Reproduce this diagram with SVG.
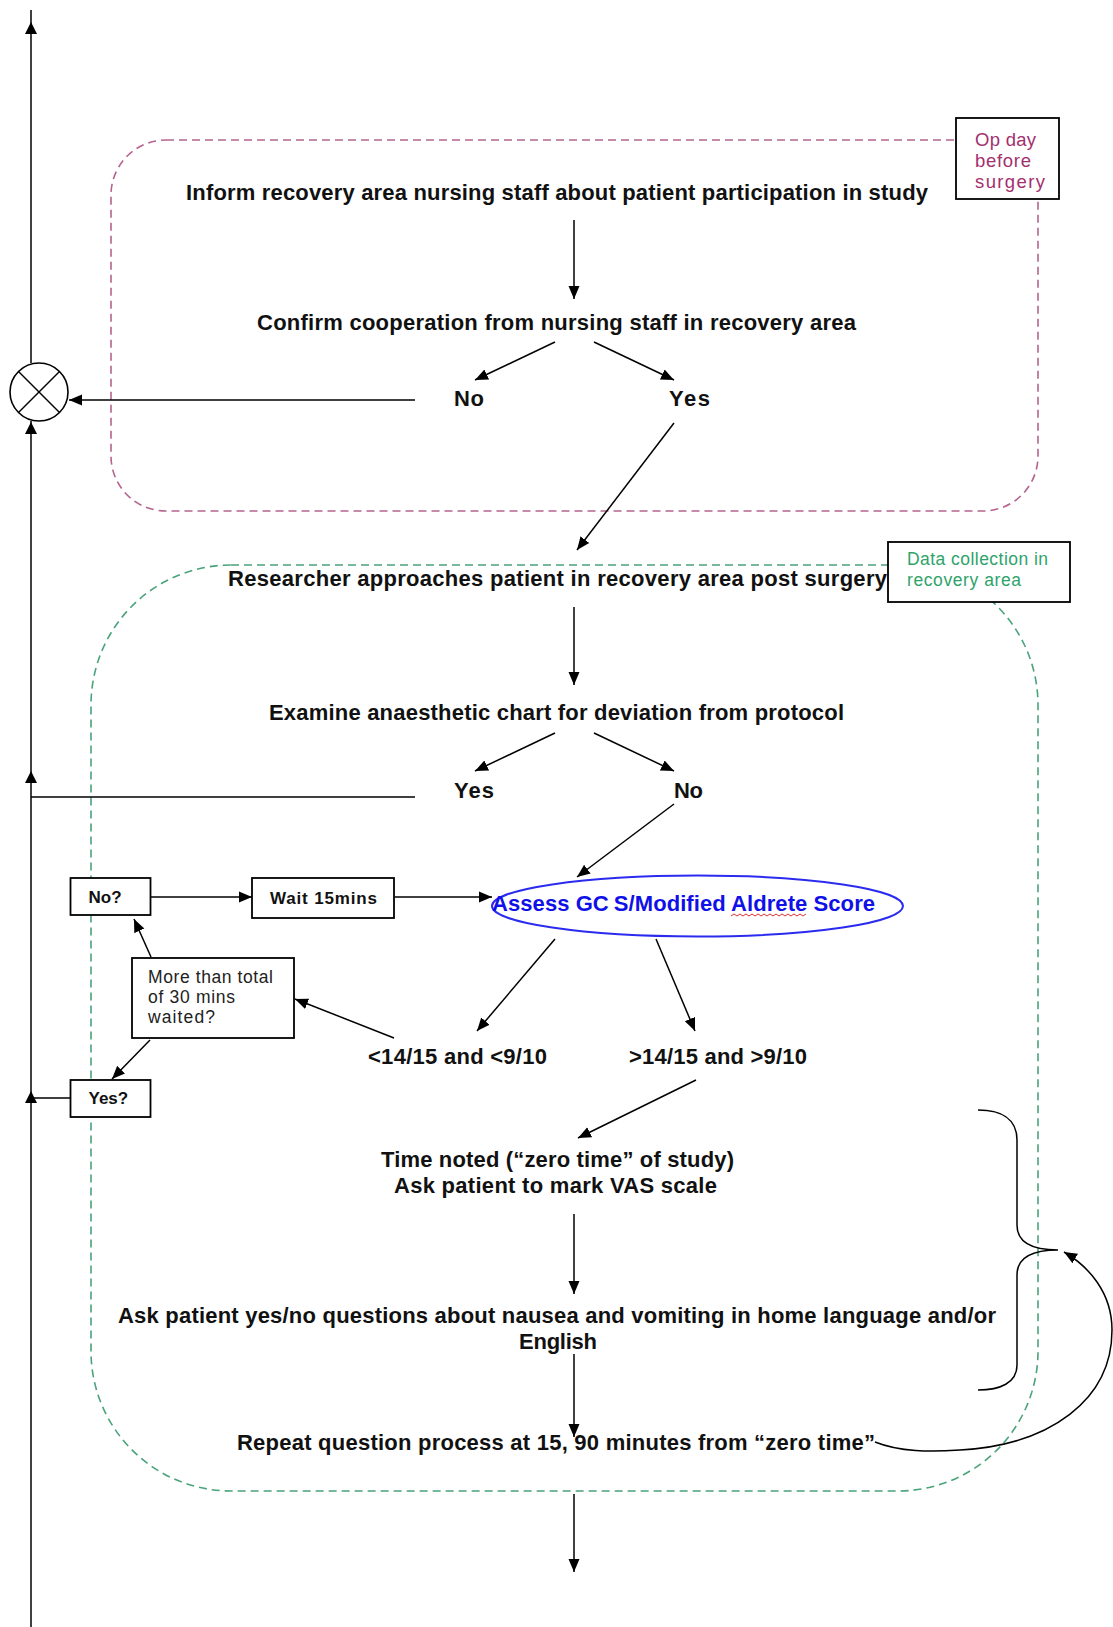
<svg xmlns="http://www.w3.org/2000/svg" width="1113" height="1627" viewBox="0 0 1113 1627">
<defs>
<marker id="ah" viewBox="0 0 13 12" refX="13" refY="6" markerWidth="13" markerHeight="12" markerUnits="userSpaceOnUse" orient="auto">
<path d="M0,0.5 L13,6 L0,11.5 z" fill="#000"/>
</marker>
<style>
.t{font-family:"Liberation Sans",Arial,sans-serif;font-weight:bold;font-size:22px;fill:#111;text-anchor:middle}
.s{font-family:"Liberation Sans",Arial,sans-serif;font-weight:bold;font-size:17px;fill:#111}
.r{font-family:"Liberation Sans",Arial,sans-serif;font-size:17.5px;fill:#222}
.c{fill:none;stroke:#000;stroke-width:1.5}
.ca{fill:none;stroke:#000;stroke-width:1.5;marker-end:url(#ah)}
.box{fill:#fff;stroke:#000;stroke-width:1.8}
.ahp{fill:#000}
</style>
</defs>
<rect width="1113" height="1627" fill="#fff"/>

<g id="zones">
<rect x="111" y="140" width="927" height="371" rx="55" ry="55" fill="none" stroke="#b4648e" stroke-width="1.6" stroke-dasharray="8 5"/>
<rect x="91" y="565" width="947" height="926" rx="140" ry="140" fill="none" stroke="#4aa37a" stroke-width="1.6" stroke-dasharray="8 5"/>
</g>

<g id="connectors">
<line class="c" x1="31" y1="10" x2="31" y2="363"/>
<line class="c" x1="31" y1="421" x2="31" y2="1627"/>
<polygon class="ahp" points="31,22 25,34 37,34"/>
<polygon class="ahp" points="31,422 25,434 37,434"/>
<polygon class="ahp" points="31,771 25,783 37,783"/>
<polygon class="ahp" points="31,1091 25,1103 37,1103"/>
<line class="ca" x1="415" y1="400" x2="69" y2="400"/>
<line class="ca" x1="574" y1="220" x2="574" y2="299"/>
<line class="ca" x1="555" y1="342" x2="475" y2="380"/>
<line class="ca" x1="594" y1="342" x2="674" y2="380"/>
<line class="ca" x1="674" y1="423" x2="577" y2="550"/>
<line class="ca" x1="574" y1="607" x2="574" y2="685"/>
<line class="ca" x1="555" y1="733" x2="475" y2="771"/>
<line class="ca" x1="594" y1="733" x2="674" y2="771"/>
<line class="c" x1="415" y1="797" x2="31" y2="797"/>
<line class="ca" x1="674" y1="804" x2="577" y2="877"/>
<line class="ca" x1="151" y1="897" x2="252" y2="897"/>
<line class="ca" x1="395" y1="897" x2="492" y2="897"/>
<line class="ca" x1="555" y1="939" x2="477" y2="1031"/>
<line class="ca" x1="656" y1="939" x2="695" y2="1031"/>
<line class="ca" x1="394" y1="1038" x2="295" y2="999"/>
<line class="ca" x1="151" y1="957" x2="134" y2="919"/>
<line class="ca" x1="150" y1="1040" x2="112" y2="1079"/>
<line class="c" x1="70" y1="1098" x2="31" y2="1098"/>
<line class="ca" x1="696" y1="1080" x2="578" y2="1138"/>
<line class="ca" x1="574" y1="1214" x2="574" y2="1294"/>
<line class="ca" x1="574" y1="1354" x2="574" y2="1437"/>
<line class="ca" x1="574" y1="1494" x2="574" y2="1572"/>
<path class="c" d="M978 1110 C1000 1110 1017 1118 1017 1140 L1017 1225 C1017 1244 1035 1250 1058 1250 C1035 1250 1017 1256 1017 1275 L1017 1365 C1017 1383 1000 1390 978 1390"/>
<path class="ca" d="M875 1442 C900 1452 930 1452 960 1450 C1050 1445 1112 1400 1112 1330 C1112 1292 1088 1266 1064 1252"/>
</g>

<g id="terminator">
<circle cx="39" cy="392" r="29" fill="#fff" stroke="#000" stroke-width="1.6"/>
<line class="c" x1="18.5" y1="371.5" x2="59.5" y2="412.5"/>
<line class="c" x1="59.5" y1="371.5" x2="18.5" y2="412.5"/>
</g>

<g id="label-opday">
<rect class="box" x="956" y="118" width="103" height="81"/>
<text font-family="Liberation Sans,Arial,sans-serif" font-size="18.5" fill="#a3306e"><tspan x="975" y="146" textLength="61">Op day</tspan><tspan x="975" y="167" textLength="56">before</tspan><tspan x="975" y="188" textLength="70">surgery</tspan></text>
</g>
<g id="label-data">
<rect class="box" x="888" y="542" width="182" height="60"/>
<text font-family="Liberation Sans,Arial,sans-serif" font-size="17.5" fill="#2ea36a"><tspan x="907" y="565" textLength="141">Data collection in</tspan><tspan x="907" y="586" textLength="114">recovery area</tspan></text>
</g>

<g id="n-inform"><text class="t" x="557" y="200" textLength="742">Inform recovery area nursing staff about patient participation in study</text></g>
<g id="n-confirm"><text class="t" x="556.5" y="329.5" textLength="599">Confirm cooperation from nursing staff in recovery area</text></g>
<g id="n-no1"><text class="t" x="469" y="406" textLength="30">No</text></g>
<g id="n-yes1"><text class="t" x="689.5" y="406" textLength="41">Yes</text></g>
<g id="n-researcher"><text class="t" x="557.5" y="586" textLength="659">Researcher approaches patient in recovery area post surgery</text></g>
<g id="n-examine"><text class="t" x="556.5" y="719.5" textLength="575">Examine anaesthetic chart for deviation from protocol</text></g>
<g id="n-yes2"><text class="t" x="474" y="798" textLength="40">Yes</text></g>
<g id="n-no2"><text class="t" x="688.5" y="798" textLength="29">No</text></g>
<g id="n-assess">
<ellipse cx="697.5" cy="906" rx="205.5" ry="30.5" fill="none" stroke="#2b2bf0" stroke-width="2"/>
<text class="t" x="683.5" y="911" textLength="383" style="fill:#1010e8">Assess GC<tspan dx="5">S/Modified Aldrete Score</tspan></text>
<path d="M731 916 l3 -2 l3 2 l3 -2 l3 2 l3 -2 l3 2 l3 -2 l3 2 l3 -2 l3 2 l3 -2 l3 2 l3 -2 l3 2 l3 -2 l3 2 l3 -2 l3 2 l3 -2 l3 2 l3 -2 l3 2 l3 -2 l3 2 l3 -2" fill="none" stroke="#e03030" stroke-width="1"/>
</g>
<g id="n-noq"><rect class="box" x="70.5" y="878" width="80" height="37"/><text class="s" x="88.5" y="903">No?</text></g>
<g id="n-wait"><rect class="box" x="252" y="878" width="142" height="40"/><text class="s" x="270" y="904" textLength="107">Wait 15mins</text></g>
<g id="n-more"><rect class="box" x="132" y="958" width="162" height="80"/><text class="r"><tspan x="148" y="983" textLength="125">More than total</tspan><tspan x="148" y="1003" textLength="87">of 30 mins</tspan><tspan x="148" y="1023" textLength="67">waited?</tspan></text></g>
<g id="n-yesq"><rect class="box" x="70.5" y="1080" width="80" height="37"/><text class="s" x="88.5" y="1104">Yes?</text></g>
<g id="n-low"><text class="t" x="457.5" y="1064" textLength="179">&lt;14/15 and &lt;9/10</text></g>
<g id="n-high"><text class="t" x="718" y="1064" textLength="178">&gt;14/15 and &gt;9/10</text></g>
<g id="n-time"><text class="t" x="557.5" y="1167" textLength="353">Time noted (“zero time” of study)</text><text class="t" x="555.5" y="1193" textLength="323">Ask patient to mark VAS scale</text></g>
<g id="n-ask"><text class="t" x="557" y="1323" textLength="878">Ask patient yes/no questions about nausea and vomiting in home language and/or</text><text class="t" x="558" y="1349" textLength="78">English</text></g>
<g id="n-repeat"><text class="t" x="556" y="1450" textLength="638">Repeat question process at 15, 90 minutes from “zero time”</text></g>
</svg>
